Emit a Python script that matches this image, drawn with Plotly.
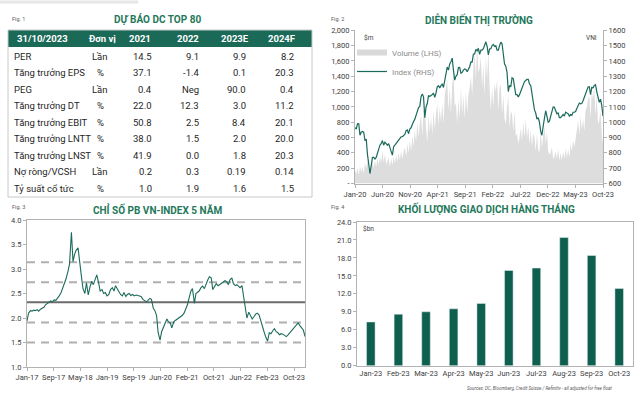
import pandas as pd
import plotly.graph_objects as go

# ---------------- Fig 1: table ----------------
tbl_header = ["31/10/2023", "Đơn vị", "2021", "2022", "2023E", "2024F"]
row_labels = ["PER", "Tăng trưởng EPS", "PEG", "Tăng trưởng DT", "Tăng trưởng EBIT",
              "Tăng trưởng LNTT", "Tăng trưởng LNST", "Nợ ròng/VCSH", "Tỷ suất cổ tức"]
units = ["Lần", "%", "Lần", "%", "%", "%", "%", "Lần", "%"]
v2021 = ["14.5", "37.1", "0.4", "22.0", "50.8", "38.0", "41.9", "0.2", "1.0"]
v2022 = ["9.1", "-1.4", "Neg", "12.3", "2.5", "1.5", "0.0", "0.3", "1.9"]
v2023E = ["9.9", "0.1", "90.0", "3.0", "8.4", "2.0", "1.8", "0.19", "1.6"]
v2024F = ["8.2", "20.3", "0.4", "11.2", "20.1", "20.0", "20.3", "0.14", "1.5"]

# ---------------- Fig 2: market (weekly) ----------------
vni = [
    # 2020
    965, 955, 990, 991, 915,
    935, 940, 935, 880,
    890, 790, 720, 665,
    715, 770, 770, 760,
    770, 800, 820, 850, 860,
    880, 850, 870, 860,
    850, 860, 840, 810, 785,
    840, 850, 860, 870,
    885, 890, 905, 905,
    910, 920, 945, 950, 925,
    955, 965, 990, 1005,
    1020, 1045, 1070, 1095,
    # 2021
    1103, 1167, 1185, 1166, 1030,
    1100, 1122, 1175, 1168,
    1178, 1181, 1190, 1162,
    1191, 1231, 1239, 1224, 1239,
    1251, 1227, 1281, 1321,
    1360, 1340, 1380, 1395,
    1418, 1340, 1275, 1300, 1310,
    1357, 1358, 1320, 1325,
    1340, 1348, 1345, 1330,
    1345, 1362, 1393, 1392, 1444,
    1446, 1475, 1465, 1482,
    1443, 1470, 1470, 1480, 1498,
    # 2022
    1525, 1496, 1440, 1478,
    1480, 1500, 1508, 1495,
    1500, 1470, 1470, 1500,
    1522, 1512, 1450, 1380, 1366,
    1325, 1200, 1240, 1230,
    1290, 1285, 1230, 1180,
    1180, 1165, 1180, 1205, 1220,
    1250, 1265, 1272, 1280,
    1280, 1250, 1240, 1180, 1130,
    1080, 1060, 1020, 1030,
    1000, 940, 915, 975,
    1030, 1075, 1040, 1000, 1007,
    # 2023
    1040, 1060, 1100, 1098,
    1077, 1055, 1060, 1030,
    1030, 1040, 1050, 1040, 1065,
    1060, 1055, 1040, 1050,
    1045, 1065, 1065, 1070,
    1090, 1110, 1125, 1120, 1122,
    1140, 1165, 1175, 1200,
    1230, 1232, 1180, 1228,
    1225, 1240, 1245, 1200, 1155,
    1130, 1150, 1110, 1040,
]
volume = [
    # 2020
    180, 120, 210, 110, 230,
    150, 220, 130, 260,
    200, 300, 170, 250,
    180, 280, 200, 300,
    220, 330, 240, 350, 270,
    420, 280, 380, 250,
    290, 340, 220, 330, 240,
    350, 260, 380, 280,
    400, 300, 430, 320,
    420, 470, 350, 520, 400,
    560, 420, 620, 480,
    700, 540, 800, 600,
    # 2021
    780, 900, 620, 950, 1000,
    720, 540, 900, 660,
    880, 640, 950, 700,
    900, 1050, 760, 1000, 800,
    1050, 780, 1150, 1250,
    1350, 950, 1250, 900,
    1300, 1450, 1000, 1050, 780,
    1100, 850, 1250, 900,
    1150, 850, 1200, 920,
    1150, 1250, 1400, 1150, 1500,
    1700, 1350, 1850, 1450,
    1500, 1650, 1250, 1550, 1150,
    # 2022
    1650, 1350, 1750, 1250,
    950, 1250, 1000, 1300,
    1200, 1350, 950, 1250,
    1300, 900, 1150, 850, 780,
    1000, 1150, 720, 950,
    900, 680, 950, 620,
    650, 520, 600, 720, 560,
    800, 600, 850, 580,
    750, 520, 700, 480, 650,
    600, 420, 650, 450,
    400, 700, 460, 620,
    750, 520, 680, 420, 380,
    # 2023
    400, 480, 320, 350,
    420, 320, 450, 300,
    400, 300, 420, 320, 460,
    330, 450, 340, 520,
    420, 560, 480, 580,
    700, 820, 640, 880, 700,
    850, 680, 950, 1000,
    1100, 1150, 850, 1200,
    1100, 1250, 900, 1150, 780,
    820, 950, 650, 520,
]
fig2_ticktext = ["Jan-20", "Jun-20", "Nov-20", "Apr-21", "Sep-21", "Feb-22",
                 "Jul-22", "Dec-22", "May-23", "Oct-23"]
vol_ticktext = ["-", "200", "400", "600", "800", "1,000", "1,200", "1,400", "1,600", "1,800", "2,000"]

# ---------------- Fig 3: P/B (semi-monthly) ----------------
pb = [
    # 2017
    1.94, 2.10, 2.15, 2.14, 2.16, 2.15, 2.17, 2.14, 2.18, 2.20, 2.22, 2.27,
    2.30, 2.32, 2.35, 2.33, 2.37, 2.36, 2.40, 2.45, 2.52, 2.60, 2.68, 2.80,
    # 2018
    2.95, 3.10, 3.75, 3.15, 3.30, 3.38, 3.43, 3.10, 2.85, 2.60, 2.50, 2.72,
    2.47, 2.62, 2.75, 2.68, 2.80, 2.88, 2.72, 2.55, 2.58, 2.50, 2.52, 2.45,
    # 2019
    2.48, 2.58, 2.62, 2.55, 2.66, 2.60, 2.55, 2.48, 2.45, 2.52, 2.44, 2.48,
    2.50, 2.46, 2.48, 2.45, 2.47, 2.46, 2.45, 2.44, 2.38, 2.35, 2.33, 2.36,
    # 2020
    2.40, 2.38, 2.20, 2.15, 2.05, 1.70, 1.55, 1.72, 1.80, 1.88, 1.98, 1.92,
    1.90, 1.80, 1.92, 1.95, 1.98, 2.00, 2.02, 2.05, 2.10, 2.18, 2.27, 2.40,
    # 2021
    2.55, 2.60, 2.30, 2.50, 2.52, 2.55, 2.62, 2.65, 2.60, 2.70, 2.78, 2.84,
    2.82, 2.58, 2.65, 2.70, 2.66, 2.68, 2.70, 2.72, 2.76, 2.74, 2.68, 2.78,
    # 2022
    2.82, 2.70, 2.66, 2.68, 2.64, 2.62, 2.66, 2.45, 2.25, 2.00, 2.12, 2.06,
    1.98, 2.02, 2.08, 2.10, 2.06, 1.95, 1.85, 1.72, 1.60, 1.53, 1.70, 1.68,
    # 2023
    1.74, 1.78, 1.72, 1.70, 1.66, 1.68, 1.67, 1.64, 1.62, 1.65,
    1.70, 1.74, 1.77, 1.82, 1.88, 1.90, 1.84, 1.80, 1.75, 1.62,
]
pb_mean = 2.32
pb_bands = [1.50, 1.91, 2.73, 3.14]
fig3_ticktext = ["Jan-17", "Sep-17", "May-18", "Jan-19", "Sep-19", "Jun-20",
                 "Feb-21", "Oct-21", "Jun-22", "Feb-23", "Oct-23"]

# ---------------- Fig 4: monthly turnover ----------------
months4 = ["Jan-23", "Feb-23", "Mar-23", "Apr-23", "May-23",
           "Jun-23", "Jul-23", "Aug-23", "Sep-23", "Oct-23"]
turnover = [7.3, 8.6, 9.0, 9.5, 10.4, 15.9, 16.3, 21.4, 18.4, 12.9]

# ---------------- styling ----------------
W, H = 640, 396
FONT = "Roboto"
GREEN_T = "#24785a"
HEAD = "#1b6a57"
BAR = "#0f5f4e"
LINE = "#1b6b5c"
AX = "#b3b3b3"
TXT = "#404040"


def px(x):
    return x / W


def py(y):
    return 1 - y / H


fig = go.Figure()

dates2 = pd.date_range("2020-01-03", periods=len(vni), freq="W-FRI")
fig.add_trace(go.Scatter(x=dates2, y=volume, name="Volume (LHS)", mode="none", showlegend=False,
                         fill="tozeroy", fillcolor="#dddddd", xaxis="x", yaxis="y"))
fig.add_trace(go.Scatter(x=[None], y=[None], name="Volume (LHS)", mode="lines",
                         line=dict(color="#d9d9d9", width=6), xaxis="x", yaxis="y"))
fig.add_trace(go.Scatter(x=dates2, y=vni, name="Index (RHS)", mode="lines",
                         line=dict(color=LINE, width=1.2), xaxis="x", yaxis="y2"))

dates3 = pd.date_range("2017-01-01", periods=len(pb), freq="SMS")
fig.add_trace(go.Scatter(x=dates3, y=pb, mode="lines", showlegend=False,
                         line=dict(color=LINE, width=1.1), xaxis="x3", yaxis="y3"))

fig.add_trace(go.Bar(x=months4, y=turnover, marker_color=BAR, showlegend=False,
                     xaxis="x4", yaxis="y4"))

tickfont = dict(family=FONT, size=7.5, color=TXT)
common = dict(showgrid=False, zeroline=False, tickfont=tickfont, linecolor=AX,
              ticks="outside", ticklen=3, tickcolor=AX, showline=True, tickangle=0,
              automargin=False)

x2_ticks = pd.date_range(dates2[0], dates2[-1], periods=len(fig2_ticktext))
x3_ticks = pd.date_range(dates3[0], periods=len(fig3_ticktext), freq="238D")

fig.update_layout(
    width=W, height=H, margin=dict(l=0, r=0, t=0, b=0, autoexpand=False),
    paper_bgcolor="white", plot_bgcolor="white",
    font=dict(family=FONT, color=TXT),
    bargap=0.69,
    legend=dict(x=px(352), y=py(38), xanchor="left", yanchor="top",
                bgcolor="rgba(0,0,0,0)", font=dict(family=FONT, size=8, color="#8c8c8c"),
                itemwidth=30, tracegroupgap=0),
    xaxis=dict(domain=[px(355), px(603)], anchor="y",
               range=[dates2[0], dates2[-1]], tickvals=x2_ticks, ticktext=fig2_ticktext,
               **common),
    yaxis=dict(domain=[py(183.5), py(30.3)], anchor="x", range=[0, 2000],
               tickvals=list(range(0, 2001, 200)), ticktext=vol_ticktext, **common),
    yaxis2=dict(overlaying="y", side="right", anchor="x", range=[600, 1600],
                dtick=100, **common),
    xaxis3=dict(domain=[px(27), px(305)], anchor="y3",
                range=[dates3[0], dates3[-1]], tickvals=x3_ticks, ticktext=fig3_ticktext,
                mirror=True, **common),
    yaxis3=dict(domain=[py(367), py(220)], anchor="x3", range=[1.0, 4.0],
                dtick=0.5, tickformat=".1f", mirror=True, **common),
    xaxis4=dict(domain=[px(357), px(633)], anchor="y4", mirror=True, **common),
    yaxis4=dict(domain=[py(365.7), py(222)], anchor="x4", range=[0, 24],
                dtick=3, tickformat=".1f", mirror=True, **common),
)
fig.layout.xaxis4.ticks = ""

# table geometry (pixels)
TBL_L, TBL_R, TBL_T, HEAD_B, TBL_B = 8, 312, 30, 47, 197
ROW0, ROWH = 56, 16.55
col_x = [12, 100, 154, 201, 248, 296]
col_anchor = ["left", "center", "right", "right", "right", "right"]
head_x = [15, 102, 153, 201, 251, 298]

shapes = [
    dict(type="rect", xref="paper", yref="paper", x0=px(TBL_L), x1=px(TBL_R),
         y0=py(HEAD_B), y1=py(TBL_T), fillcolor=HEAD, line=dict(width=0), layer="below"),
    dict(type="rect", xref="paper", yref="paper", x0=px(TBL_L), x1=px(TBL_R),
         y0=py(TBL_B), y1=py(TBL_T), line=dict(color="#c8c8c8", width=1)),
    dict(type="line", xref="paper", yref="paper", x0=0, x1=px(138), y0=py(2), y1=py(2),
         line=dict(color="#e6e6e6", width=3)),
]
for b in pb_bands:
    shapes.append(dict(type="line", xref="x3 domain", yref="y3", x0=0, x1=1, y0=b, y1=b,
                       layer="below", line=dict(color="#b0b0b0", width=2, dash="8px,6px")))
shapes.append(dict(type="line", xref="x3 domain", yref="y3", x0=0, x1=1, y0=pb_mean, y1=pb_mean,
                   layer="below", line=dict(color="#6b6b6b", width=2)))
fig.update_layout(shapes=shapes)

ann = []
cell_font = dict(family=FONT, size=9.5, color="#262626")
head_font = dict(family=FONT, size=9.5, color="white", weight="bold")
for j, h in enumerate(tbl_header):
    ann.append(dict(x=px(head_x[j]), y=py((TBL_T + HEAD_B) / 2), text=h, xanchor=col_anchor[j],
                    yanchor="middle", showarrow=False, font=head_font, xref="paper", yref="paper"))
columns = [row_labels, units, v2021, v2022, v2023E, v2024F]
for j, col in enumerate(columns):
    for i, val in enumerate(col):
        ann.append(dict(x=px(col_x[j]), y=py(ROW0 + i * ROWH), text=val, xanchor=col_anchor[j],
                        yanchor="middle", showarrow=False, font=cell_font,
                        xref="paper", yref="paper"))

small = dict(family=FONT, size=5.5, color="#595959")
title_font = dict(family=FONT, size=10, color=GREEN_T, weight="bold")
for (fx, fy, t) in [(10, 19, "Fig. 1"), (329, 19, "Fig. 2"), (10, 207, "Fig. 3"), (329, 207, "Fig. 4")]:
    ann.append(dict(x=px(fx), y=py(fy), text=t, xanchor="left", yanchor="middle",
                    showarrow=False, font=small, xref="paper", yref="paper"))
for (tx, ty, t) in [(157, 19, "DỰ BÁO DC TOP 80"), (479, 19, "DIỄN BIẾN THỊ TRƯỜNG"),
                    (157, 209, "CHỈ SỐ PB VN-INDEX 5 NĂM"), (486, 208, "KHỐI LƯỢNG GIAO DỊCH HÀNG THÁNG")]:
    ann.append(dict(x=px(tx), y=py(ty), text=t, xanchor="center", yanchor="middle",
                    showarrow=False, font=title_font, xref="paper", yref="paper"))
ann.append(dict(x=px(362), y=py(38), text="$m", xanchor="left", yanchor="middle", showarrow=False,
                font=dict(family=FONT, size=6.5, color=TXT), xref="paper", yref="paper"))
ann.append(dict(x=px(599), y=py(38), text="VNI", xanchor="right", yanchor="middle", showarrow=False,
                font=dict(family=FONT, size=6.5, color=TXT), xref="paper", yref="paper"))
ann.append(dict(x=px(361), y=py(229), text="$bn", xanchor="left", yanchor="middle", showarrow=False,
                font=dict(family=FONT, size=6.5, color=TXT), xref="paper", yref="paper"))
ann.append(dict(x=px(614), y=py(388), text="<i>Sources: DC, Bloomberg, Credit Suisse / Refinitiv - all adjusted for free float</i>",
                xanchor="right", yanchor="middle", showarrow=False,
                font=dict(family=FONT, size=4.5, color="#595959"), xref="paper", yref="paper"))
fig.update_layout(annotations=ann)

fig.write_html("out.html", config={"displayModeBar": False},
               post_script="document.body.style.margin='0px';")
